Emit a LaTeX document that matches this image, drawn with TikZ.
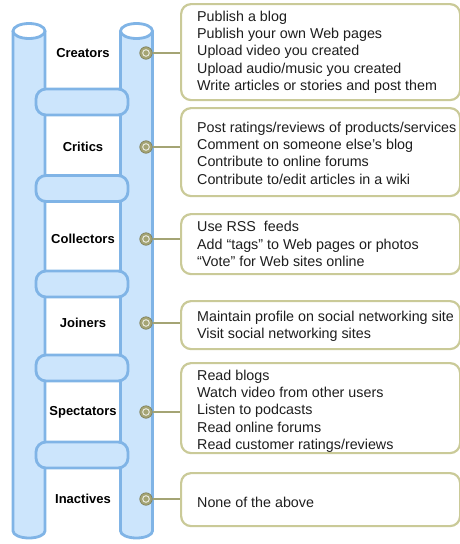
\documentclass[tikz,border=0pt]{standalone}
\usepackage{fontspec}
\setmainfont{Liberation Sans}
\definecolor{cylfill}{HTML}{CCE5FC}
\definecolor{cylline}{HTML}{80B4E6}
\definecolor{boxline}{HTML}{CACA98}
\definecolor{olive}{HTML}{A4A474}
\definecolor{txtcol}{HTML}{1E1E1E}
\begin{document}
\begin{tikzpicture}[x=1pt,y=1pt,
 cyl/.style={draw=cylline, fill=cylfill, line width=2.8pt},
 rung/.style={draw=cylline, fill=cylfill, line width=2.8pt, rounded corners=10pt, minimum width=92pt, minimum height=26pt, inner sep=0pt},
 lbl/.style={font=\fontsize{13}{15}\selectfont\bfseries, text=black},
 box/.style={draw=boxline, line width=2.2pt, rounded corners=10pt, fill=white, minimum width=279pt, anchor=north west, inner sep=0pt},
 txt/.style={font=\fontsize{14.3}{17.3}\selectfont, text=txtcol, align=left, anchor=west, inner sep=0pt},
 dot/.style={circle, fill=olive, draw=olive!75!black, line width=0.6pt, minimum size=12.5pt, inner sep=0pt,
   path picture={\draw[white!75!olive, line width=1pt] (path picture bounding box.center) circle[radius=3.3pt];}},
 conn/.style={draw=olive, line width=1.4pt}
]
\useasboundingbox (0,0) rectangle (460,-544);
\clip (0,0) rectangle (460,-544);

% cylinders
\foreach \cx in {29,136.5} {
  \draw[cyl] (\cx-16,-31) -- (\cx-16,-531) arc[start angle=180,end angle=360,x radius=16,y radius=7] -- (\cx+16,-31);
  \draw[cyl, fill=white] (\cx,-31) ellipse[x radius=16, y radius=7.5];
}

% rungs
\node[rung] (r1) at (82,-102) {};
\node[rung] (r2) at (82,-188.5) {};
\node[rung] (r3) at (82,-284) {};
\node[rung] (r4) at (82,-368) {};
\node[rung] (r5) at (82,-455) {};

% labels
\node[lbl] (l1) at (83,-53) {Creators};
\node[lbl] (l2) at (83,-147) {Critics};
\node[lbl] (l3) at (83,-239) {Collectors};
\node[lbl] (l4) at (83,-323) {Joiners};
\node[lbl] (l5) at (83,-412) {Spectators};
\node[lbl] (l6) at (83,-499) {Inactives};

% boxes
\node[box, minimum height=96pt] (b1) at (180,-3) {};
\node[box, minimum height=88pt] (b2) at (180,-107) {};
\node[box, minimum height=60pt] (b3) at (180,-213) {};
\node[box, minimum height=48pt] (b4) at (180,-300) {};
\node[box, minimum height=90pt] (b5) at (180,-362) {};
\node[box, minimum height=53pt] (b6) at (180,-472) {};

% dots
\node[dot] (d1) at (146,-53) {};
\node[dot] (d2) at (146,-147) {};
\node[dot] (d3) at (146,-239) {};
\node[dot] (d4) at (146,-323) {};
\node[dot] (d5) at (146,-412) {};
\node[dot] (d6) at (146,-499) {};

% connectors
\foreach \i in {1,...,6} {
  \draw[conn] (d\i) -- (d\i -| b\i.west);
}

% texts
\node[txt] (t1) at ([xshift=17pt]b1.west) {Publish a blog\\Publish your own Web pages\\Upload video you created\\Upload audio/music you created\\Write articles or stories and post them};
\node[txt] (t2) at ([xshift=17pt,yshift=-1pt]b2.west) {Post ratings/reviews of products/services\\Comment on someone else’s blog\\Contribute to online forums\\Contribute to/edit articles in a wiki};
\node[txt] (t3) at ([xshift=17pt]b3.west) {Use RSS\ \ feeds\\Add “tags” to Web pages or photos\\“Vote” for Web sites online};
\node[txt] (t4) at ([xshift=17pt,yshift=-1.5pt]b4.west) {Maintain profile on social networking site\\Visit social networking sites};
\node[txt] (t5) at ([xshift=17pt,yshift=-3pt]b5.west) {Read blogs\\Watch video from other users\\Listen to podcasts\\Read online forums\\Read customer ratings/reviews};
\node[txt] (t6) at ([xshift=17pt,yshift=-3pt]b6.west) {None of the above};
\end{tikzpicture}
\end{document}
